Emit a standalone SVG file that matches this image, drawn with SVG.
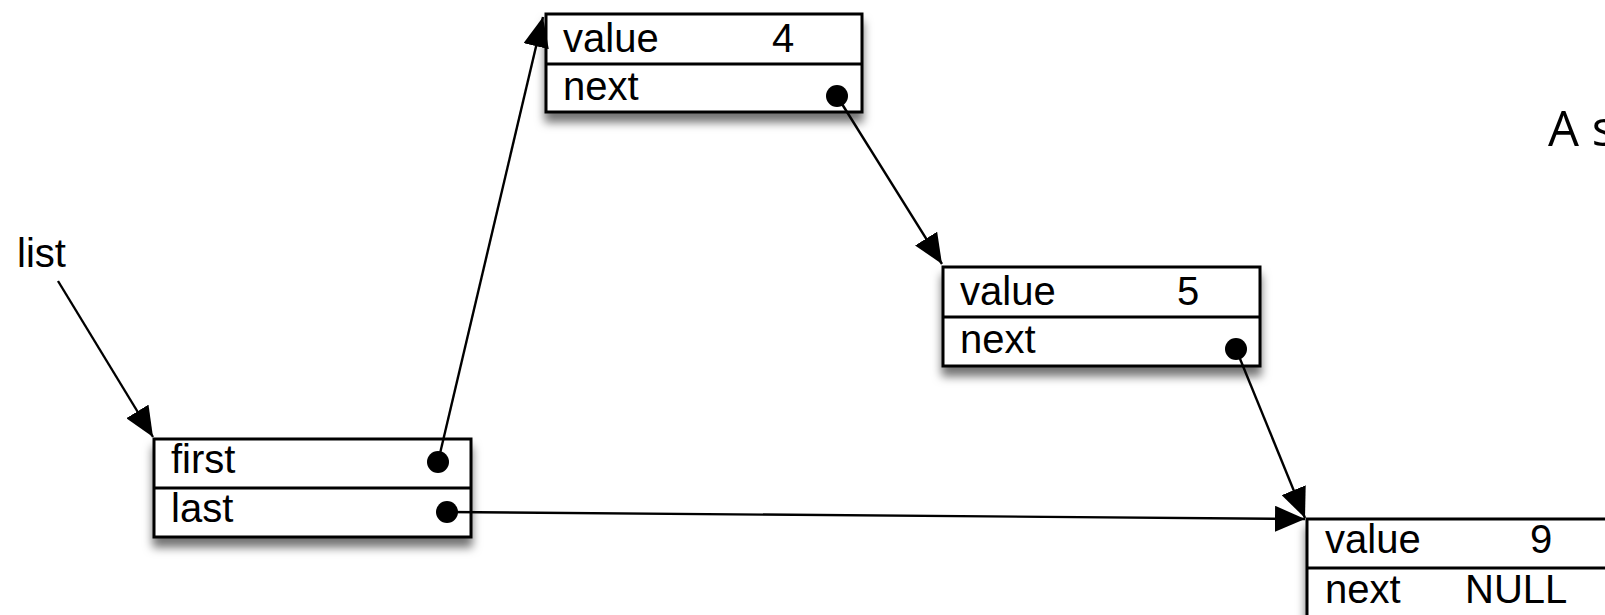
<svg xmlns="http://www.w3.org/2000/svg" width="1605" height="615" viewBox="0 0 1605 615">
<style>
.box{fill:#fff;stroke:#000;stroke-width:3}
.div{stroke:#000;stroke-width:3}
.t{font-family:"Liberation Sans",Arial,sans-serif;font-size:40px;fill:#000}
.edge{stroke:#000;stroke-width:2.4;fill:none;marker-end:url(#ah)}
.dot{fill:#000}
</style>
<defs>
<filter id="sh" x="-10%" y="-20%" width="120%" height="160%">
<feDropShadow dx="0" dy="9" stdDeviation="5" flood-color="#000" flood-opacity="0.55"/>
</filter>
<marker id="ah" markerUnits="userSpaceOnUse" markerWidth="32" markerHeight="26" refX="30" refY="13" orient="auto">
<path d="M0,0 L30,13 L0,26 Z" fill="#000"/>
</marker>
</defs>
<g id="node4">
<rect class="box" x="1307" y="519" width="317" height="110" filter="url(#sh)"/>
<line class="div" x1="1307" y1="568" x2="1624" y2="568"/>
<text class="t" x="1325" y="553">value</text>
<text class="t" x="1530" y="553">9</text>
<text class="t" x="1325" y="603">next</text>
<text class="t" x="1465" y="603">NULL</text>
</g>
<g id="node1">
<rect class="box" x="546" y="14" width="316" height="98" filter="url(#sh)"/>
<line class="div" x1="546" y1="64" x2="862" y2="64"/>
<text class="t" x="563" y="52">value</text>
<text class="t" x="772" y="52">4</text>
<text class="t" x="563" y="100">next</text>
<circle class="dot" cx="837" cy="96" r="11"/>
</g>
<g id="node2">
<rect class="box" x="943" y="267" width="317" height="99" filter="url(#sh)"/>
<line class="div" x1="943" y1="317" x2="1260" y2="317"/>
<text class="t" x="960" y="305">value</text>
<text class="t" x="1177" y="305">5</text>
<text class="t" x="960" y="353">next</text>
<circle class="dot" cx="1236" cy="349" r="11"/>
</g>
<g id="node3">
<rect class="box" x="154" y="439" width="317" height="98" filter="url(#sh)"/>
<line class="div" x1="154" y1="488" x2="471" y2="488"/>
<text class="t" x="171" y="473">first</text>
<text class="t" x="171" y="522">last</text>
<circle class="dot" cx="438" cy="462" r="11"/>
<circle class="dot" cx="447" cy="512" r="11"/>
</g>
<g id="list-label">
<text class="t" x="17" y="267">list</text>
</g>
<g id="title">
<text x="1548" y="146" style="font-family:'Open Sans','DejaVu Sans',sans-serif;font-size:49px;fill:#000">A s</text>
</g>
<g id="connectors">
<line class="edge" x1="58" y1="281" x2="153" y2="437"/>
<line class="edge" x1="438" y1="462" x2="543" y2="17"/>
<line class="edge" x1="837" y1="96" x2="942" y2="264"/>
<line class="edge" x1="1236" y1="349" x2="1305" y2="518"/>
<line class="edge" x1="447" y1="512" x2="1305" y2="519"/>
</g>
</svg>
